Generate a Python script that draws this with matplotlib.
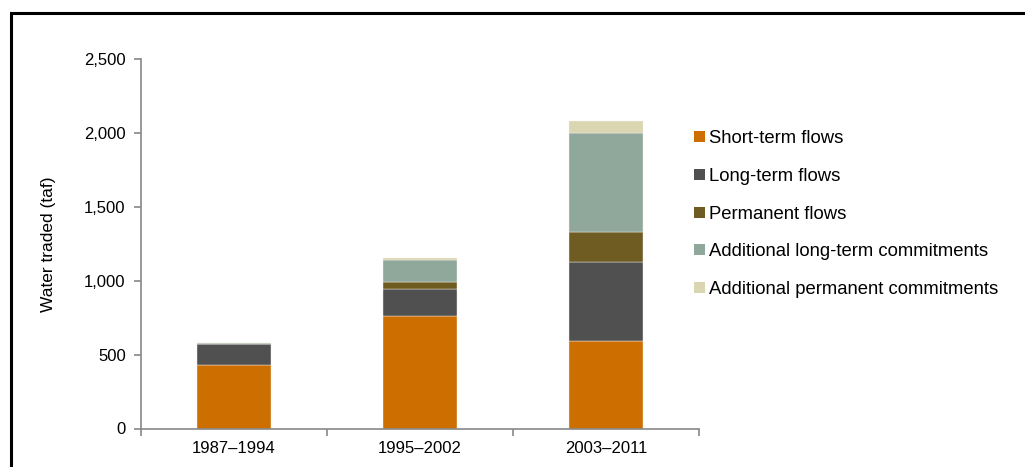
import matplotlib
matplotlib.use("Agg")
import matplotlib.pyplot as plt
from matplotlib.patches import Rectangle
from matplotlib.ticker import FuncFormatter, FixedLocator
import numpy as np

plt.rcParams['font.family'] = ['Liberation Sans', 'DejaVu Sans']

periods = ["1987\u20131994", "1995\u20132002", "2003\u20132011"]
series_names = [
    "Short-term flows",
    "Long-term flows",
    "Permanent flows",
    "Additional long-term commitments",
    "Additional permanent commitments",
]
short_term = [430, 762, 595]
long_term = [140, 183, 531]
permanent = [2, 48, 201]
addl_long_term = [8, 144, 675]
addl_permanent = [0, 16, 79]
colors = ["#CC6E00", "#505050", "#6E5C22", "#8FA89B", "#D9D6B1"]

fig = plt.figure(figsize=(10.25, 4.67), dpi=100)
W, H = 1025, 467
ax_w = 699 - 141
ax = fig.add_axes([141 / W, 1 - 428.5 / H, ax_w / W, (428.5 - 59) / H])

x = np.arange(len(periods))
bottom = np.zeros(len(periods))
handles = []
for name, vals, c in zip(series_names,
                         [short_term, long_term, permanent, addl_long_term, addl_permanent],
                         colors):
    vals = np.array(vals, dtype=float)
    b = ax.bar(x, vals, width=0.4, bottom=bottom, color=c, edgecolor="#f6f1ea",
               linewidth=0.3, label=name)
    handles.append(b)
    bottom += vals

ax.set_xlim(-0.5, 2.5)
ax.set_ylim(0, 2500)
ax.set_yticks(np.arange(0, 2501, 500))
ax.yaxis.set_major_formatter(FuncFormatter(lambda v, p: f"{int(v):,}"))
ax.set_xticks(x)
ax.set_xticklabels(periods)
ax.xaxis.set_minor_locator(FixedLocator([-0.5, 0.5, 1.5, 2.5]))
ax.tick_params(axis="x", which="major", length=0, pad=9, labelsize=12)
ax.tick_params(axis="x", which="minor", length=5, color="#888888", width=1.2)
ax.tick_params(axis="y", length=5, color="#888888", width=1.2, pad=6, labelsize=12)

for s in ["top", "right"]:
    ax.spines[s].set_visible(False)
for s in ["left", "bottom"]:
    ax.spines[s].set_color("#888888")
    ax.spines[s].set_linewidth(1.2)

ax.set_ylabel("Water traded (taf)", fontsize=12.5)
ax.yaxis.set_label_coords((56 - 141) / ax_w, 0.5)

leg = fig.legend(handles=handles, labels=series_names, loc="upper left",
                 bbox_to_anchor=(687 / W, 1 - 123 / H), frameon=False,
                 fontsize=13.3, handlelength=0.55, handleheight=0.55,
                 handletextpad=0.25, labelspacing=1.12, borderaxespad=0)
for h in leg.legend_handles:
    h.set_edgecolor("none")

# outer frame, running off the right and bottom edges
fig.patches.append(Rectangle((11 / W, -0.1), 1.2, 1 - 12.5 / H + 0.1,
                             transform=fig.transFigure, fill=False,
                             edgecolor="black", linewidth=2.2, zorder=10))

fig.savefig("out.png", dpi=100)
